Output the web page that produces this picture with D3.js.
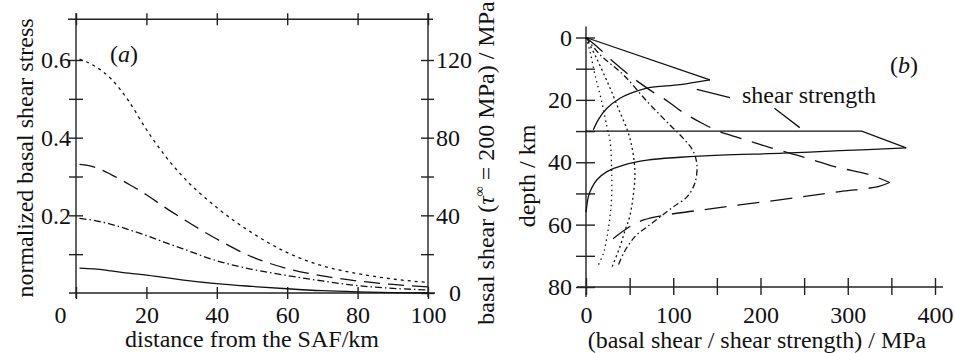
<!DOCTYPE html>
<html lang="en">
<head>
<meta charset="UTF-8">
<title>basal shear</title>
<script src="https://cdn.jsdelivr.net/npm/d3@7/dist/d3.min.js"></script>
<style>
    body { margin: 0; background: #fff; }
    svg text {
        font-family: "Liberation Serif", "Times New Roman", serif;
        font-size: 24px;
        fill: #111;
    }
    .ln { fill: none; stroke: #111; stroke-width: 1.3; }
    .ax { stroke: #222; stroke-width: 1.4; }
</style>
</head>
<body>
<script>
// ---- (a) basal shear vs distance from the SAF ----
let distance = [1, 5, 10, 15, 20, 25, 30, 40, 50, 60, 70, 80, 90, 100];
let shearDotted = [0.602, 0.586, 0.551, 0.494, 0.421, 0.357, 0.303, 0.220, 0.155, 0.104, 0.070, 0.050, 0.036, 0.027];
let shearLongDash = [0.331, 0.325, 0.305, 0.280, 0.253, 0.222, 0.193, 0.139, 0.093, 0.063, 0.044, 0.031, 0.022, 0.016];
let shearDashDot = [0.192, 0.187, 0.177, 0.163, 0.148, 0.131, 0.115, 0.083, 0.061, 0.045, 0.031, 0.019, 0.012, 0.008];
let shearSolid = [0.064, 0.062, 0.057, 0.051, 0.046, 0.040, 0.034, 0.024, 0.017, 0.011, 0.006, 0.003, 0.001, 0.000];

let xTicksA = [0, 20, 40, 60, 80, 100];
let yTicksA = [0.1, 0.2, 0.3, 0.4, 0.5, 0.6];
let yLabelsA = [0.2, 0.4, 0.6];
let yTicksR = [0, 20, 40, 60, 80, 100, 120];
let yLabelsR = [0, 40, 80, 120];

// ---- (b) depth profiles, [MPa, km] ----
let strengthBrittle = [[0, 0], [142, 13.6]];
let strengthCrust = [[142, 13.6], [108, 15.1], [70, 16.2], [50, 18], [39, 19.5], [24, 22.7], [14, 26.4], [8.4, 29.6]];
let strengthMoho = [[0, 30], [316, 30], [367, 35.4]];
let strengthMantle = [[367, 35.4], [291, 36.3], [226, 37.1], [154, 37.7], [108, 38.4], [70, 39.3], [43, 40.9],
    [24, 43], [12.3, 45.7], [6.5, 48.3], [2.7, 51], [0.8, 54.3], [0, 56]];
let profLongDashDown = [[0, 0], [15, 3.5], [33, 8.2], [54, 13], [73, 16.8], [94, 20.5], [110, 23.8], [133, 27.5],
    [150, 29.8], [171, 31.8], [190, 33.5], [211, 35.3], [235, 37.2], [255, 38.8], [285, 41.4], [326, 44.1], [348, 46.5]];
let profLongDashUp = [[348, 46.5], [335, 47.8], [291, 49.4], [245, 51.2], [176, 53.7], [127, 55.5], [92, 56.9],
    [66, 58.5], [50, 60.7], [31, 64.5]];
let profDashDot = [[0, 0], [16, 5.5], [43, 12], [70, 20.5], [96, 28], [112, 32.5], [122, 36], [127, 40.5], [125, 46.5],
    [116, 51], [100, 54.3], [85, 57.5], [70, 60.7], [58, 63.3], [50, 66], [43, 69.2], [37, 73]];
let profDotB = [[0, 0], [12, 6.6], [26, 15.2], [37, 22.7], [50, 32], [56, 42.5], [54, 51], [50, 57.5], [45, 61.7], [39, 67], [30, 73.5]];
let profDotA = [[0, 0], [5, 5], [10.3, 12], [18, 20.5], [24, 28.6], [27.5, 33], [29.4, 42.5], [29.4, 51], [27.5, 57.5],
    [24, 64], [20, 69.2], [14, 73]];

let xTicksB = [0, 50, 100, 150, 200, 250, 300, 350, 400];
let xLabelsB = [0, 100, 200, 300, 400];
let yTicksB = [0, 10, 20, 30, 40, 50, 60, 70, 80];
let yLabelsB = [0, 20, 40, 60, 80];

let width = 955, height = 353;
let svg = d3.select('body').append('svg')
    .attr('width', width)
    .attr('height', height);

/* ================= panel (a) ================= */
let xA = d3.scaleLinear().domain([0, 100]).range([76, 428]);
let yA = d3.scaleLinear().domain([0, 0.6]).range([293, 60]);
let yR = d3.scaleLinear().domain([0, 120]).range([293, 60]);
let topA = yA(0.705);

let gA = svg.append('g');

// frame
gA.append('line').attr('class', 'ax')
    .attr('x1', xA(0) - 7).attr('x2', xA(100) + 7).attr('y1', yA(0)).attr('y2', yA(0));
gA.append('line').attr('class', 'ax')
    .attr('x1', xA(0) - 8).attr('x2', xA(100) + 5).attr('y1', topA).attr('y2', topA);
gA.append('line').attr('class', 'ax')
    .attr('x1', xA(0)).attr('x2', xA(0)).attr('y1', topA - 6).attr('y2', yA(0) + 5);
gA.append('line').attr('class', 'ax')
    .attr('x1', xA(100)).attr('x2', xA(100)).attr('y1', topA - 6).attr('y2', yA(0) + 4);

// bottom axis
let axBottomA = gA.append('g')
    .attr('transform', 'translate(0,' + yA(0) + ')')
    .call(d3.axisBottom(xA).tickValues(xTicksA).tickFormat(d3.format('d')));
axBottomA.select('.domain').remove();
axBottomA.selectAll('.tick line').attr('class', 'ax').attr('y1', -6).attr('y2', 6);
axBottomA.selectAll('.tick text')
    .attr('y', 30).attr('dy', 0)
    .attr('dx', function (d) { return d === 0 ? -16 : 0; })
    .attr('fill', null);

// top axis (ticks only)
let axTopA = gA.append('g')
    .attr('transform', 'translate(0,' + topA + ')')
    .call(d3.axisTop(xA).tickValues(xTicksA).tickFormat(''));
axTopA.select('.domain').remove();
axTopA.selectAll('.tick line').attr('class', 'ax').attr('y1', -6).attr('y2', 6);

// left axis
let axLeftA = gA.append('g')
    .attr('transform', 'translate(' + xA(0) + ',0)')
    .call(d3.axisLeft(yA).tickValues(yTicksA)
        .tickFormat(function (d) { return yLabelsA.indexOf(d) >= 0 ? d3.format('.1f')(d) : ''; }));
axLeftA.select('.domain').remove();
axLeftA.selectAll('.tick line').attr('class', 'ax').attr('x1', -7).attr('x2', 7);
axLeftA.selectAll('.tick text').attr('x', -5).attr('fill', null);

// right axis
let axRightA = gA.append('g')
    .attr('transform', 'translate(' + xA(100) + ',0)')
    .call(d3.axisRight(yR).tickValues(yTicksR)
        .tickFormat(function (d) { return yLabelsR.indexOf(d) >= 0 ? d : ''; }));
axRightA.select('.domain').remove();
axRightA.selectAll('.tick line').attr('class', 'ax').attr('x1', -7).attr('x2', 6);
axRightA.selectAll('.tick text')
    .attr('x', function (d) { return d === 0 ? 21 : 8; })
    .attr('fill', null);

// curves
let lineA = d3.line()
    .x(function (d, i) { return xA(distance[i]); })
    .y(function (d) { return yA(d); })
    .curve(d3.curveMonotoneX);

let seriesA = [
    {v: shearDotted, dash: '3,4'},
    {v: shearLongDash, dash: '16,8'},
    {v: shearDashDot, dash: '7,3,1.5,3'},
    {v: shearSolid, dash: null}
];
gA.selectAll('.curveA')
    .data(seriesA)
    .enter()
    .append('path')
    .attr('class', 'ln curveA')
    .attr('stroke-dasharray', function (d) { return d.dash; })
    .attr('d', function (d) { return lineA(d.v); });

// texts
gA.append('text').attr('x', 110).attr('y', 62)
    .html('(<tspan font-style="italic">a</tspan>)');
gA.append('text').attr('x', 252).attr('y', 347).attr('text-anchor', 'middle')
    .text('distance from the SAF/km');
gA.append('text').attr('text-anchor', 'middle')
    .attr('transform', 'translate(33,158) rotate(-90)')
    .text('normalized basal shear stress');
gA.append('text').attr('text-anchor', 'middle')
    .attr('transform', 'translate(494,163) rotate(-90)')
    .html('basal shear (<tspan font-style="italic">τ</tspan><tspan font-size="14" dy="-10">∞</tspan><tspan dy="10"> = 200 MPa) / MPa</tspan>');

/* ================= panel (b) ================= */
let xB = d3.scaleLinear().domain([0, 400]).range([586, 935]);
let yB = d3.scaleLinear().domain([0, 80]).range([37.5, 287]);

let gB = svg.append('g');

gB.append('line').attr('class', 'ax')
    .attr('x1', xB(0) - 9).attr('x2', xB(400) + 8).attr('y1', yB(80)).attr('y2', yB(80));
gB.append('line').attr('class', 'ax')
    .attr('x1', xB(0)).attr('x2', xB(0)).attr('y1', yB(0) - 11).attr('y2', yB(80) + 10);

let axBottomB = gB.append('g')
    .attr('transform', 'translate(0,' + yB(80) + ')')
    .call(d3.axisBottom(xB).tickValues(xTicksB)
        .tickFormat(function (d) { return xLabelsB.indexOf(d) >= 0 ? d : ''; }));
axBottomB.select('.domain').remove();
axBottomB.selectAll('.tick line').attr('class', 'ax').attr('y1', -9).attr('y2', 8);
axBottomB.selectAll('.tick text').attr('y', 36).attr('dy', 0).attr('fill', null);

let axLeftB = gB.append('g')
    .attr('transform', 'translate(' + xB(0) + ',0)')
    .call(d3.axisLeft(yB).tickValues(yTicksB)
        .tickFormat(function (d) { return yLabelsB.indexOf(d) >= 0 ? d : ''; }));
axLeftB.select('.domain').remove();
axLeftB.selectAll('.tick line').attr('class', 'ax').attr('x1', -10).attr('x2', 9);
axLeftB.selectAll('.tick text').attr('x', -14).attr('fill', null);

let lineB = d3.line()
    .x(function (d) { return xB(d[0]); })
    .y(function (d) { return yB(d[1]); });

let seriesB = [
    {v: strengthBrittle, dash: null, curve: d3.curveLinear},
    {v: strengthCrust, dash: null, curve: d3.curveCatmullRom},
    {v: strengthMoho, dash: null, curve: d3.curveLinear},
    {v: strengthMantle, dash: null, curve: d3.curveCatmullRom},
    {v: profLongDashDown, dash: '22,11', curve: d3.curveCatmullRom},
    {v: profLongDashUp, dash: '22,11', curve: d3.curveCatmullRom},
    {v: profDashDot, dash: '6,3,1.5,3', curve: d3.curveCatmullRom},
    {v: profDotB, dash: '2,3', curve: d3.curveCatmullRom},
    {v: profDotA, dash: '1.4,3.6', curve: d3.curveCatmullRom}
];
gB.selectAll('.curveB')
    .data(seriesB)
    .enter()
    .append('path')
    .attr('class', 'ln curveB')
    .attr('stroke-dasharray', function (d) { return d.dash; })
    .attr('d', function (d) { return lineB.curve(d.curve)(d.v); });

// shear strength label with leader lines
gB.append('text').attr('x', 742).attr('y', 103).text('shear strength');
gB.append('line').attr('class', 'ln')
    .attr('x1', xB(127)).attr('y1', yB(16.6)).attr('x2', xB(165)).attr('y2', yB(19.3));
gB.append('line').attr('class', 'ln')
    .attr('x1', xB(216)).attr('y1', yB(22.7)).attr('x2', xB(245)).attr('y2', yB(28.9));

gB.append('text').attr('x', 890).attr('y', 73)
    .html('(<tspan font-style="italic">b</tspan>)');
gB.append('text').attr('x', 757).attr('y', 348).attr('text-anchor', 'middle')
    .text('(basal shear / shear strength) / MPa');
gB.append('text').attr('text-anchor', 'middle')
    .attr('transform', 'translate(535,176) rotate(-90)')
    .text('depth / km');
</script>
</body>
</html>
